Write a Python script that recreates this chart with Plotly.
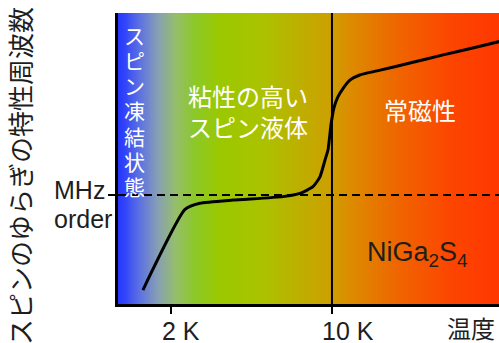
import numpy as np
import plotly.graph_objects as go

# ---- data ----
temperature_K = [1.51, 2.30, 2.67, 3.72, 6.13, 7.26, 8.27, 8.87, 9.33, 9.61, 9.90,
                 10.2, 10.6, 11.2, 12.0, 13.2, 15.7, 21.8, 30.4, 42.6, 54.0]
frequency_au = [4.8, 32.5, 34.6, 35.7, 36.9, 38.0, 40.3, 43.7, 49.5, 52.9, 61.5,
                67.4, 71.1, 74.2, 77.0, 78.7, 80.1, 82.8, 85.6, 88.3, 90.3]
tick_values_K = [2, 10]
tick_labels = ["2 K", "10 K"]
mhz_level = 37.5          # "MHz order" reference level (arbitrary units)
transition_K = 10         # vertical marker
x_range_log = [0.0709, 1.7253]
y_range = [0, 100]
frozen_label = "スピン凍結状態"

# background gradient stops (fraction of the plot width, colour)
gradient_stops = [
    [0.000, "rgb(40,55,255)"],
    [0.018, "rgb(50,70,250)"],
    [0.058, "rgb(95,115,225)"],
    [0.105, "rgb(135,160,180)"],
    [0.150, "rgb(150,190,110)"],
    [0.202, "rgb(140,200,40)"],
    [0.268, "rgb(155,200,0)"],
    [0.373, "rgb(170,195,0)"],
    [0.478, "rgb(190,175,0)"],
    [0.556, "rgb(205,160,0)"],
    [0.609, "rgb(220,140,0)"],
    [0.740, "rgb(240,100,0)"],
    [0.871, "rgb(252,70,0)"],
    [1.000, "rgb(255,55,0)"],
]

FONT = "Liberation Sans, Arial, Noto Sans CJK JP, sans-serif"
TXT = "#1e1e1e"

fig = go.Figure()

# gradient background
n_cols = 400
frac = np.linspace(0, 1, n_cols)
bg_x = 10 ** (x_range_log[0] + (x_range_log[1] - x_range_log[0]) * frac)
fig.add_trace(go.Heatmap(
    x=bg_x, y=y_range, z=[frac, frac], zmin=0, zmax=1,
    colorscale=gradient_stops, showscale=False, hoverinfo="skip", zsmooth=False,
))

# vertical transition line
fig.add_trace(go.Scatter(x=[transition_K, transition_K], y=y_range, mode="lines",
                         line=dict(color="black", width=2), hoverinfo="skip",
                         showlegend=False))

# MHz dashed line
fig.add_trace(go.Scatter(x=[10 ** x_range_log[0], 10 ** x_range_log[1]],
                         y=[mhz_level, mhz_level], mode="lines",
                         line=dict(color="black", width=2, dash="8px,5px"),
                         hoverinfo="skip", showlegend=False))

# curve
fig.add_trace(go.Scatter(x=temperature_K, y=frequency_au, mode="lines",
                         line=dict(color="black", width=3, shape="spline", smoothing=0.5),
                         hoverinfo="skip", showlegend=False))

W, H = 499, 343
L, R, T, B = 118, 0, 13, 39
pw, ph = W - L - R, H - T - B


def px_x(p):
    return (p - L) / pw


def px_y(p):
    return (H - B - p) / ph


ann = []
for tv, tl in zip(tick_values_K, tick_labels):
    ann.append(dict(x=np.log10(tv), xref="x", y=px_y(331), yref="paper", text=tl,
                    xanchor="left", xshift=-11.5, yanchor="middle", showarrow=False,
                    font=dict(size=25, color=TXT, family=FONT)))
ann += [
    dict(x=1, xref="paper", xshift=-2, y=px_y(329), yref="paper", text="温度",
         xanchor="right", yanchor="middle", showarrow=False,
         font=dict(size=24, color=TXT, family=FONT)),
    dict(x=px_x(52), xref="paper", y=px_y(190), yref="paper", text="MHz",
         xanchor="left", yanchor="middle", showarrow=False,
         font=dict(size=25, color=TXT, family=FONT)),
    dict(x=px_x(52), xref="paper", y=px_y(219), yref="paper", text="order",
         xanchor="left", yanchor="middle", showarrow=False,
         font=dict(size=25, color=TXT, family=FONT)),
    dict(x=px_x(22), xref="paper", y=px_y(176), yref="paper",
         text="スピンのゆらぎの特性周波数", textangle=-90,
         xanchor="center", yanchor="middle", showarrow=False,
         font=dict(size=26, color=TXT, family=FONT)),
    dict(x=px_x(186), xref="paper", y=px_y(112.5), yref="paper",
         text="粘性の高い<br>スピン液体", align="left",
         xanchor="left", yanchor="middle", showarrow=False,
         font=dict(size=24, color="white", family=FONT)),
    dict(x=px_x(382), xref="paper", y=px_y(111), yref="paper",
         text="常磁性", xanchor="left", yanchor="middle", showarrow=False,
         font=dict(size=24, color="white", family=FONT)),
    dict(x=px_x(365), xref="paper", y=px_y(254), yref="paper",
         text="NiGa<sub>2</sub>S<sub>4</sub>", xanchor="left", yanchor="middle",
         showarrow=False, font=dict(size=27, color=TXT, family=FONT)),
]
# vertically stacked label, one character per row
for i, ch in enumerate(frozen_label):
    ann.append(dict(x=px_x(134.5), xref="paper", y=px_y(36 + i * 25.3), yref="paper",
                    text=ch, xanchor="center", yanchor="middle", showarrow=False,
                    font=dict(size=21, color="white", family=FONT)))

fig.update_layout(
    width=W, height=H,
    margin=dict(l=L, r=R, t=T, b=B, pad=0),
    paper_bgcolor="white", plot_bgcolor="white",
    showlegend=False,
    font=dict(family=FONT, color=TXT),
    xaxis=dict(type="log", range=x_range_log, showline=True, linewidth=3,
               linecolor="black", ticks="outside", tickvals=tick_values_K,
               ticklen=7, tickwidth=2, tickcolor="black", showticklabels=False,
               showgrid=False, zeroline=False, fixedrange=True),
    yaxis=dict(range=y_range, showline=True, linewidth=3, linecolor="black",
               ticks="outside", tickvals=[mhz_level], ticklen=7, tickwidth=2,
               tickcolor="black", showticklabels=False, showgrid=False,
               zeroline=False, fixedrange=True),
    annotations=ann,
)

fig.write_html("out.html", config={"displayModeBar": False},
               post_script="document.body.style.margin='0';document.body.style.overflow='hidden';")
